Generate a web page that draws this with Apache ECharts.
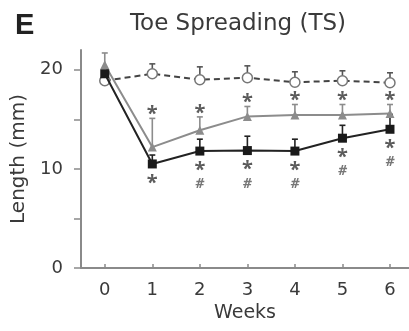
<!DOCTYPE html>
<html><head><meta charset="utf-8">
<script src="https://cdn.jsdelivr.net/npm/echarts@6/dist/echarts.min.js"></script>
<style>html,body{margin:0;padding:0;background:#fff}#c{width:409px;height:331px}</style>
</head><body><div id="c"></div>
<script>
var weeks = [0, 1, 2, 3, 4, 5, 6];
var controlVals = [18.9, 19.6, 19.0, 19.2, 18.75, 18.9, 18.7];
var controlErrTop = [19.6, 20.6, 20.3, 20.4, 19.8, 19.9, 19.7];
var grayVals = [20.5, 12.2, 13.9, 15.3, 15.45, 15.45, 15.6];
var grayErrTop = [21.7, 15.1, 15.25, 16.3, 16.5, 16.5, 16.5];
var blackVals = [19.6, 10.5, 11.8, 11.85, 11.8, 13.1, 14.0];
var blackErrTop = [19.6, 11.4, 13.0, 13.3, 13.0, 14.4, 15.5];
var grayMarks = ['', '*', '*', '*', '*', '*', '*'];
var blackMarks = ['', '*', '*\n#', '*\n#', '*\n#', '*\n#', '*\n#'];
var yLabelValues = [0, 10, 20];
var yTickValues = [0, 5, 10, 15, 20];

var FONT = 'DejaVu Sans';
var TXT = '#3a3a3a';
function pairs(vals) { return weeks.map(function (w, i) { return [w, vals[i]]; }); }
function errData(vals, tops) { return weeks.map(function (w, i) { return [w, vals[i], tops[i]]; }); }
function errSeries(vals, tops, color, z) {
  return {
    type: 'custom', z: z, silent: true,
    data: errData(vals, tops),
    renderItem: function (params, api) {
      var p0 = api.coord([api.value(0), api.value(1)]);
      var p1 = api.coord([api.value(0), api.value(2)]);
      if (Math.abs(p0[1] - p1[1]) < 0.5) return null;
      var st = { stroke: color, lineWidth: 1.6 };
      return { type: 'group', children: [
        { type: 'line', shape: { x1: p0[0], y1: p0[1], x2: p1[0], y2: p1[1] }, style: st },
        { type: 'line', shape: { x1: p1[0] - 3, y1: p1[1], x2: p1[0] + 3, y2: p1[1] }, style: st }
      ]};
    }
  };
}

var chart = echarts.init(document.getElementById('c'));
chart.setOption({
  animation: false,
  textStyle: { fontFamily: FONT },
  title: [
    { text: 'E', left: 10, top: 6, textStyle: { fontFamily: 'Liberation Sans', fontWeight: 'bold', fontSize: 29, color: '#222' } },
    { text: 'Toe Spreading (TS)', left: 233, top: 8, textAlign: 'center', textStyle: { fontFamily: FONT, fontWeight: 'normal', fontSize: 23, color: TXT } }
  ],
  grid: { left: 81, right: 0, top: 50, bottom: 63, containLabel: false },
  xAxis: {
    type: 'value', min: -0.5, max: 6.4,
    name: 'Weeks', nameLocation: 'middle', nameGap: 36,
    nameTextStyle: { fontSize: 19, color: TXT, fontFamily: FONT },
    axisLine: { onZero: false, lineStyle: { color: '#8a8a8a', width: 2 } },
    axisTick: { show: true, inside: true, length: 4, lineStyle: { color: '#8a8a8a', width: 1.5 }, customValues: weeks },
    axisLabel: { customValues: weeks, fontSize: 18, color: TXT, margin: 13 },
    splitLine: { show: false }
  },
  yAxis: {
    type: 'value', min: 0, max: 22,
    name: 'Length (mm)', nameLocation: 'middle', nameGap: 46, nameRotate: 90,
    nameTextStyle: { fontSize: 20, color: TXT, fontFamily: FONT },
    axisLine: { show: true, onZero: false, lineStyle: { color: '#8a8a8a', width: 2 } },
    axisTick: { show: true, length: 7, lineStyle: { color: '#8a8a8a', width: 1.5 }, customValues: yTickValues },
    axisLabel: { customValues: yLabelValues, fontSize: 18, color: TXT, margin: 18 },
    splitLine: { show: false }
  },
  series: [
    errSeries(controlVals, controlErrTop, '#555', 1),
    errSeries(grayVals, grayErrTop, '#8c8c8c', 1),
    errSeries(blackVals, blackErrTop, '#222', 1),
    {
      type: 'line', data: pairs(controlVals), z: 3,
      lineStyle: { color: '#444', width: 2, type: [6, 4] },
      symbol: 'circle', symbolSize: 10,
      itemStyle: { color: '#fff', borderColor: '#777', borderWidth: 1.5 }
    },
    {
      type: 'line', data: pairs(grayVals), z: 4,
      lineStyle: { color: '#8c8c8c', width: 2 },
      symbol: 'triangle', symbolSize: 9,
      itemStyle: { color: '#8c8c8c' }
    },
    {
      type: 'line', data: pairs(blackVals), z: 5,
      lineStyle: { color: '#222', width: 2 },
      symbol: 'rect', symbolSize: 9,
      itemStyle: { color: '#1a1a1a' }
    },
    {
      type: 'scatter', symbolSize: 0, silent: true, z: 6,
      data: pairs(grayErrTop),
      label: { show: true, position: 'top', distance: -6, fontSize: 20, fontWeight: 'bold', color: '#333', fontFamily: 'Open Sans',
        formatter: function (p) { return grayMarks[p.dataIndex]; } }
    },
    {
      type: 'scatter', symbolSize: 0, silent: true, z: 6,
      data: pairs(blackVals),
      label: { show: true, position: 'bottom', distance: 12, fontSize: 20, fontWeight: 'bold', color: '#333', lineHeight: 14,
        formatter: function (p) {
          var m = blackMarks[p.dataIndex];
          if (!m) return '';
          var parts = m.split('\n');
          return parts.map(function (s) { return s === '#' ? '{h|#}' : '{s|*}'; }).join('\n');
        },
        rich: {
          s: { fontSize: 20, fontWeight: 'bold', color: '#333', lineHeight: 14, fontFamily: 'Open Sans' },
          h: { fontSize: 14, fontStyle: 'italic', color: '#555', lineHeight: 14, fontFamily: 'Open Sans' }
        }
      }
    }
  ]
});
</script></body></html>
